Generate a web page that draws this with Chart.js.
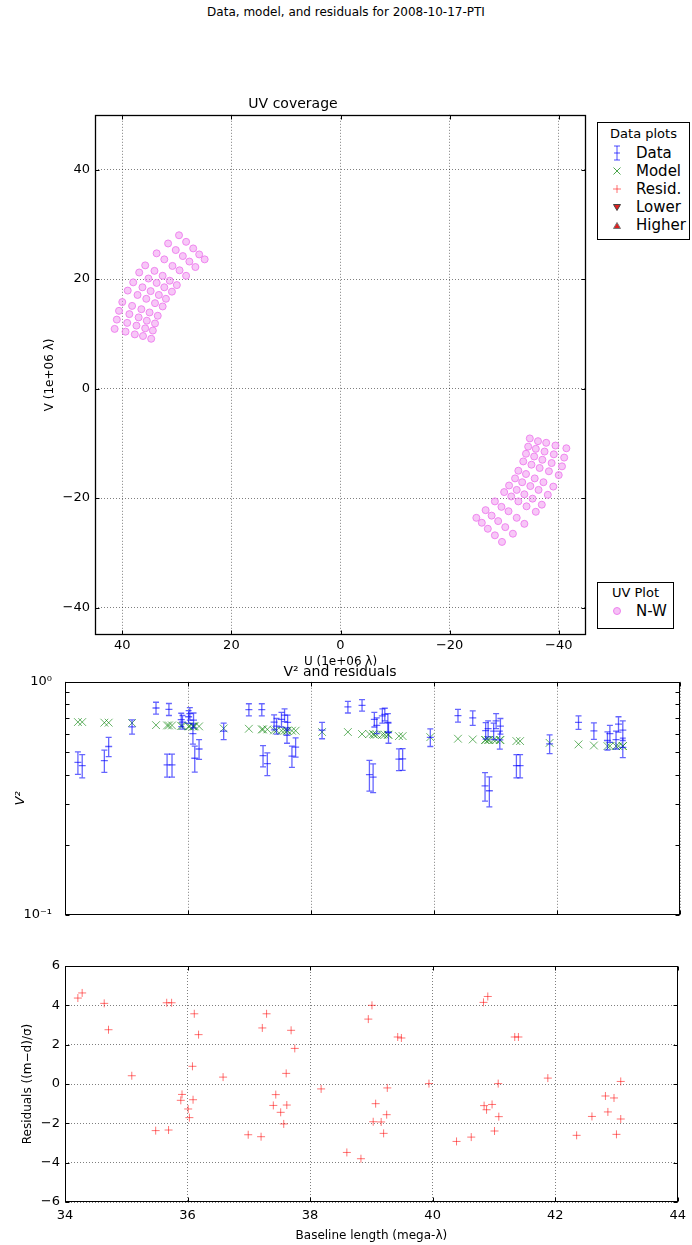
<!DOCTYPE html>
<html>
<head>
<meta charset="utf-8">
<script src="https://cdn.jsdelivr.net/npm/chart.js@4.4.0/dist/chart.umd.min.js"></script>
<style>
  body { margin: 0; background: #fff; font-family: "DejaVu Sans", sans-serif; }
  #page { position: relative; width: 692px; height: 1245px; overflow: hidden; }
  canvas { position: absolute; left: 0; }
  .suptitle { position: absolute; top: 5px; left: 0; width: 692px; text-align: center; font-size: 12px; }
  .legend { position: absolute; border: 1px solid #000; background: #fff; box-sizing: border-box; }
  .legend .ltitle { position: absolute; left: 0; right: 0; text-align: center; font-size: 13px; }
  .legend .row { position: absolute; left: 0; right: 0; height: 18px; line-height: 18px; font-size: 15px; }
  .legend svg { position: absolute; left: 12px; top: 0; }
  .legend span { position: absolute; left: 38px; top: 0; }
</style>
</head>
<body>
<div id="page">
  <div class="suptitle">Data, model, and residuals for 2008-10-17-PTI</div>
  <canvas id="uv" width="600" height="600" style="top:80px"></canvas>
  <canvas id="v2" width="692" height="285" style="top:660px"></canvas>
  <canvas id="res" width="692" height="300" style="top:945px"></canvas>

  <div class="legend" style="left:597px;top:122px;width:93px;height:118px;">
    <div class="ltitle" style="top:3px">Data plots</div>
    <div class="row" style="top:21px">
      <svg width="14" height="18"><path d="M7 2V16M4 2H10M4 16H10M4 9H10" stroke="rgba(0,0,255,0.7)" stroke-width="1" fill="none"/></svg>
      <span>Data</span></div>
    <div class="row" style="top:39px">
      <svg width="14" height="18"><path d="M3.5 5.5L10.5 12.5M10.5 5.5L3.5 12.5" stroke="rgba(0,128,0,0.7)" stroke-width="1" fill="none"/></svg>
      <span>Model</span></div>
    <div class="row" style="top:57px">
      <svg width="14" height="18"><path d="M7 5V13M3 9H11" stroke="rgba(255,0,0,0.55)" stroke-width="1" fill="none"/></svg>
      <span>Resid.</span></div>
    <div class="row" style="top:75px">
      <svg width="14" height="18"><path d="M3.5 6.5H10.5L7 12.5Z" fill="#e02020" stroke="#444" stroke-width="1"/></svg>
      <span>Lower</span></div>
    <div class="row" style="top:93px">
      <svg width="14" height="18"><path d="M3.5 12.5H10.5L7 6.5Z" fill="#e02020" stroke="#777" stroke-width="1"/></svg>
      <span>Higher</span></div>
  </div>

  <div class="legend" style="left:597px;top:582px;width:77px;height:47px;">
    <div class="ltitle" style="top:2px">UV Plot</div>
    <div class="row" style="top:19px">
      <svg width="14" height="18"><circle cx="7" cy="9" r="3.5" fill="rgba(238,130,238,0.5)" stroke="violet" stroke-width="1"/></svg>
      <span>N-W</span></div>
  </div>
</div>

<script>
// UV coverage, N-W baseline (10^6 lambda): the north-east track and its conjugate
const uvNorthU = [34.7,36.2,37.7,39.4,41.4, 34.4,35.8,37.4,39.1,41.0, 34.0,35.5,37.0,38.7,40.6,
  33.5,35.0,36.5,38.2,40.0, 32.6,34.0,35.6,37.2,39.0, 32.0,33.3,34.8,36.3,38.0,
  30.9,32.3,33.7,35.2,36.9, 30.0,31.3,32.6,34.1,35.8, 28.3,29.5,30.8,32.3,33.7,
  26.6,27.7,28.9,30.2,31.6, 24.9,25.9,27.0,28.3,29.6];
const uvNorthV = [9.1,9.6,9.9,10.4,10.9, 10.6,11.0,11.5,12.0,12.6, 11.9,12.4,13.0,13.6,14.2,
  13.3,13.9,14.5,15.1,15.8, 15.0,15.6,16.4,17.1,17.9, 16.4,17.1,17.8,18.5,19.4,
  17.7,18.5,19.3,20.1,21.2, 18.9,19.7,20.6,21.5,22.5, 20.6,21.6,22.4,23.6,24.7,
  22.2,23.2,24.2,25.3,26.5, 23.6,24.5,25.6,26.8,28.0];
const uvSouthU = [-34.7,-36.2,-37.7,-39.4,-41.4, -34.4,-35.8,-37.4,-39.1,-41.0, -34.0,-35.5,-37.0,-38.7,-40.6,
  -33.5,-35.0,-36.5,-38.2,-40.0, -32.6,-34.0,-35.6,-37.2,-39.0, -32.0,-33.3,-34.8,-36.3,-38.0,
  -30.9,-32.3,-33.7,-35.2,-36.9, -30.0,-31.3,-32.6,-34.1,-35.8, -28.3,-29.5,-30.8,-32.3,-33.7,
  -26.6,-27.7,-28.9,-30.2,-31.6, -24.9,-25.9,-27.0,-28.3,-29.6];
const uvSouthV = [-9.1,-9.6,-9.9,-10.4,-10.9, -10.6,-11.0,-11.5,-12.0,-12.6, -11.9,-12.4,-13.0,-13.6,-14.2,
  -13.3,-13.9,-14.5,-15.1,-15.8, -15.0,-15.6,-16.4,-17.1,-17.9, -16.4,-17.1,-17.8,-18.5,-19.4,
  -17.7,-18.5,-19.3,-20.1,-21.2, -18.9,-19.7,-20.6,-21.5,-22.5, -20.6,-21.6,-22.4,-23.6,-24.7,
  -22.2,-23.2,-24.2,-25.3,-26.5, -23.6,-24.5,-25.6,-26.8,-28.0];
const uvTicks = [-40, -20, 0, 20, 40];

// Baseline length (mega-lambda) for each measurement
const baseline = [34.21,34.28,34.64,34.71,35.09,35.48,35.66,35.69,35.74,35.89,35.91,36.01,36.03,36.08,36.09,
  36.11,36.18,36.58,36.99,37.20,37.22,37.29,37.40,37.44,37.52,37.57,37.61,37.62,37.69,37.75,
  38.18,38.60,38.83,38.95,39.01,39.03,39.07,39.16,39.20,39.25,39.26,39.43,39.49,39.94,40.39,
  40.63,40.83,40.84,40.88,40.90,40.97,41.01,41.07,41.08,41.34,41.40,41.88,42.35,42.60,42.82,
  42.86,42.96,43.00,43.07,43.07];
const v2Data = [0.451,0.437,0.459,0.528,0.641, 0.772,0.440,0.762,0.440,0.688, 0.672,0.708,0.730,0.600,0.685,
  0.470,0.515,0.615,0.760,0.760, 0.482,0.446,0.672,0.646,0.690, 0.720,0.590,0.670,0.480,0.525,
  0.620,0.780,0.793,0.400,0.390, 0.690,0.650,0.715,0.725,0.670, 0.605,0.466,0.467,0.578,0.716,
  0.700,0.358,0.618,0.630,0.341, 0.615,0.680,0.564,0.646,0.437, 0.437,0.542,0.670,0.616,0.560,
  0.600,0.565,0.658,0.620,0.523];
const v2Err = [0.05,0.05,0.05,0.05,0.045, 0.045,0.05,0.045,0.05,0.045, 0.045,0.045,0.045,0.06,0.05,
  0.06,0.05,0.05,0.045,0.045, 0.05,0.05,0.05,0.05,0.05, 0.045,0.045,0.05,0.05,0.05,
  0.05,0.045,0.045,0.06,0.055, 0.05,0.05,0.05,0.045,0.06, 0.06,0.05,0.05,0.05,0.045,
  0.05,0.05,0.05,0.05,0.05, 0.05,0.05,0.05,0.05,0.05, 0.05,0.05,0.045,0.05,0.05,
  0.05,0.05,0.05,0.06,0.05];
const v2Model = [0.672,0.672,0.668,0.668,0.666, 0.652,0.650,0.650,0.650,0.646, 0.646,0.644,0.644,0.644,0.644,
  0.644,0.644,0.631,0.629,0.625, 0.625,0.625,0.619,0.619,0.617, 0.617,0.617,0.617,0.617,0.617,
  0.609,0.609,0.597,0.597,0.597, 0.593,0.593,0.593,0.593,0.593, 0.593,0.585,0.585,0.579,0.570,
  0.566,0.563,0.563,0.563,0.563, 0.563,0.563,0.563,0.563,0.557, 0.557,0.547,0.539,0.533,0.530,
  0.530,0.530,0.530,0.530,0.530];
const resid = [4.37,4.63,4.10,2.76,0.42, -2.37,4.13,-2.34,4.13,-0.83, -0.53,-1.27,-1.71,0.90,-0.80,
  3.57,2.51,0.35,-2.58,-2.68, 2.85,3.57,-1.09,-0.54,-1.44, -2.03,0.54,-1.07,2.73,1.81,
  -0.25,-3.48,-3.80,3.30,4.00, -1.92,-1.00,-1.93,-2.51,-1.56, -0.20,2.39,2.34,0.02,-2.92,
  -2.70,4.15,-1.10,-1.31,4.45, -1.04,-2.39,0.02,-1.66,2.39, 2.39,0.30,-2.61,-1.65,-0.61,
  -1.42,-0.71,-2.56,-1.78,0.13];
const baseTicks = [34, 36, 38, 40, 42, 44];
const v2Ticks = [0.1, 0.2, 0.3, 0.4, 0.5, 0.6, 0.7, 0.8, 0.9, 1];
const resTicks = [-6, -4, -2, 0, 2, 4, 6];

Chart.defaults.font.family = '"DejaVu Sans", sans-serif';
Chart.defaults.color = '#000';

const minus = v => String(v).replace('-', '\u2212');
const toPoints = (xs, ys) => xs.map((x, i) => ({ x: x, y: ys[i] }));
const dotted = { color: 'rgba(0,0,0,0.5)', lineWidth: 1, drawTicks: false };
const noBorder = { display: false, dash: [1, 2] };

// box round the plot area plus small inward ticks, like matplotlib
const framePlugin = {
  id: 'frame',
  afterDraw(chart) {
    const { ctx, chartArea: a, scales } = chart;
    const L = Math.round(a.left) + 0.5, R = Math.round(a.right) - 0.5;
    const T = Math.round(a.top) + 0.5, B = Math.round(a.bottom) - 0.5;
    ctx.save();
    ctx.strokeStyle = '#000';
    ctx.lineWidth = 1;
    ctx.beginPath();
    scales.x.ticks.forEach(t => {
      const px = Math.round(scales.x.getPixelForValue(t.value)) + 0.5;
      ctx.moveTo(px, T); ctx.lineTo(px, T + 4);
      ctx.moveTo(px, B); ctx.lineTo(px, B - 4);
    });
    scales.y.ticks.forEach(t => {
      const py = Math.round(scales.y.getPixelForValue(t.value)) + 0.5;
      ctx.moveTo(L, py); ctx.lineTo(L + 4, py);
      ctx.moveTo(R, py); ctx.lineTo(R - 4, py);
    });
    ctx.stroke();
    ctx.lineWidth = chart.canvas.id === 'uv' ? 1.3 : 1;
    ctx.strokeRect(L, T, R - L, B - T);
    ctx.restore();
  }
};

// vertical error bars with caps for the V^2 points
const errorBarPlugin = {
  id: 'errorBars',
  afterDatasetsDraw(chart) {
    const { ctx, scales: { x, y } } = chart;
    ctx.save();
    ctx.strokeStyle = 'rgba(0,0,255,0.6)';
    ctx.lineWidth = 1.3;
    baseline.forEach((b, i) => {
      const px = x.getPixelForValue(b);
      const top = y.getPixelForValue(v2Data[i] + v2Err[i]);
      const bot = y.getPixelForValue(v2Data[i] - v2Err[i]);
      ctx.beginPath();
      ctx.moveTo(px, top); ctx.lineTo(px, bot);
      ctx.moveTo(px - 3, top); ctx.lineTo(px + 3, top);
      ctx.moveTo(px - 3, bot); ctx.lineTo(px + 3, bot);
      ctx.stroke();
    });
    ctx.restore();
  }
};

const common = {
  responsive: false,
  animation: false,
  events: []
};

// 1. UV coverage
new Chart(document.getElementById('uv'), {
  type: 'scatter',
  data: {
    datasets: [
      { label: 'N-W', data: toPoints(uvNorthU, uvNorthV) },
      { label: 'N-W', data: toPoints(uvSouthU, uvSouthV) }
    ].map(d => Object.assign(d, {
      pointStyle: 'circle', pointRadius: 3.5, borderWidth: 1,
      borderColor: 'rgba(238,130,238,0.95)', backgroundColor: 'rgba(238,130,238,0.45)'
    }))
  },
  options: {
    ...common,
    layout: { padding: { left: 0, right: 14, top: 0, bottom: 0 } },
    plugins: {
      legend: { display: false },
      tooltip: { enabled: false },
      title: { display: true, text: 'UV coverage', font: { size: 14, weight: 'normal' }, padding: { top: 16, bottom: 2 } }
    },
    scales: {
      x: {
        type: 'linear', reverse: true, min: -45, max: 45,
        afterBuildTicks: s => { s.ticks = uvTicks.map(v => ({ value: v })); },
        afterFit: s => { s.height = 45; },
        ticks: { font: { size: 13 }, padding: 3, callback: v => minus(v) },
        grid: dotted, border: noBorder,
        title: { display: true, text: 'U (1e+06 \u03bb)', font: { size: 12 }, padding: { top: 0, bottom: 11 } }
      },
      y: {
        type: 'linear', min: -45, max: 50,
        afterBuildTicks: s => { s.ticks = uvTicks.map(v => ({ value: v })); },
        afterFit: s => { s.width = 95; },
        ticks: { font: { size: 13 }, padding: 5, callback: v => minus(v) },
        grid: dotted, border: noBorder,
        title: { display: true, text: 'V (1e+06 \u03bb)', font: { size: 12 }, padding: { top: 43, bottom: 0 } }
      }
    }
  },
  plugins: [framePlugin]
});

// 2. V^2 and model
new Chart(document.getElementById('v2'), {
  type: 'scatter',
  data: {
    datasets: [
      { label: 'Data', data: toPoints(baseline, v2Data), pointStyle: 'line', pointRadius: 3.5,
        borderWidth: 1.3, borderColor: 'rgba(0,0,255,0.6)' },
      { label: 'Model', data: toPoints(baseline, v2Model), pointStyle: 'crossRot', pointRadius: 5.5,
        borderWidth: 1, borderColor: 'rgba(0,128,0,0.6)' }
    ]
  },
  options: {
    ...common,
    layout: { padding: { left: 0, right: 12, top: 0, bottom: 0 } },
    plugins: {
      legend: { display: false },
      tooltip: { enabled: false },
      title: { display: true, text: 'V\u00b2 and residuals', font: { size: 14, weight: 'normal' }, padding: { top: 4, bottom: 1 } }
    },
    scales: {
      x: {
        type: 'linear', min: 34, max: 44,
        afterBuildTicks: s => { s.ticks = baseTicks.map(v => ({ value: v })); },
        afterFit: s => { s.height = 30; },
        ticks: { display: false },
        grid: dotted, border: noBorder
      },
      y: {
        type: 'logarithmic', min: 0.1, max: 1,
        afterBuildTicks: s => { s.ticks = v2Ticks.map(v => ({ value: v })); },
        afterFit: s => { s.width = 65; },
        ticks: { font: { size: 13 }, padding: 5, autoSkip: false,
          callback: v => v === 1 ? '10\u2070' : (v === 0.1 ? '10\u207b\u00b9' : '') },
        grid: { display: false }, border: noBorder,
        title: { display: true, text: 'V\u00b2', font: { size: 13, style: 'italic' }, padding: { top: 13, bottom: 0 } }
      }
    }
  },
  plugins: [errorBarPlugin, framePlugin]
});

// 3. Residuals
new Chart(document.getElementById('res'), {
  type: 'scatter',
  data: {
    datasets: [
      { label: 'Resid.', data: toPoints(baseline, resid), pointStyle: 'cross', pointRadius: 4,
        borderWidth: 1, borderColor: 'rgba(255,0,0,0.55)' }
    ]
  },
  options: {
    ...common,
    layout: { padding: { left: 0, right: 12, top: 21, bottom: 0 } },
    plugins: { legend: { display: false }, tooltip: { enabled: false } },
    scales: {
      x: {
        type: 'linear', min: 34, max: 44,
        afterBuildTicks: s => { s.ticks = baseTicks.map(v => ({ value: v })); },
        afterFit: s => { s.height = 43; },
        ticks: { font: { size: 13 }, padding: 6 },
        grid: dotted, border: noBorder,
        title: { display: true, text: 'Baseline length (mega-\u03bb)', font: { size: 12 }, padding: { top: 0, bottom: 2 } }
      },
      y: {
        type: 'linear', min: -6, max: 6,
        afterBuildTicks: s => { s.ticks = resTicks.map(v => ({ value: v })); },
        afterFit: s => { s.width = 65; },
        ticks: { font: { size: 13 }, padding: 5, callback: v => minus(v) },
        grid: dotted, border: noBorder,
        title: { display: true, text: 'Residuals ((m\u2212d)/\u03c3)', font: { size: 12 }, padding: { top: 21, bottom: 0 } }
      }
    }
  },
  plugins: [framePlugin]
});
</script>
</body>
</html>
